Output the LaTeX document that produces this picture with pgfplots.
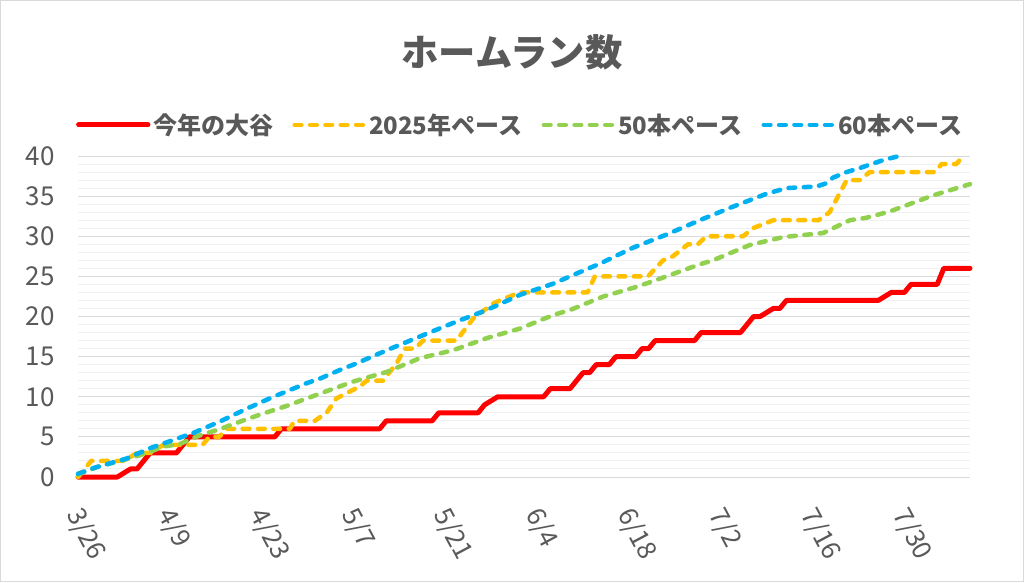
\documentclass[border=0pt]{standalone}
\usepackage{fontspec}
\setmainfont{Noto Sans CJK JP}
\usepackage{pgfplots}
\pgfplotsset{compat=1.18}

\definecolor{textgray}{RGB}{89,89,89}
\definecolor{majorgrid}{RGB}{217,217,217}
\definecolor{minorgrid}{RGB}{240,240,240}
\definecolor{ohtani}{RGB}{255,0,0}
\definecolor{pace2025}{RGB}{255,192,0}
\definecolor{pace50}{RGB}{146,208,80}
\definecolor{pace60}{RGB}{0,176,240}

\begin{document}
\begin{tikzpicture}
\path[use as bounding box] (0,0) rectangle (768pt,436.5pt);
\draw[majorgrid, line width=0.75pt] (0.375pt,0.375pt) rectangle (767.625pt,436.125pt);
\node[font=\fontsize{28}{30}\selectfont\bfseries, text=textgray] at (384pt,397.5pt) {ホームラン数};

\begin{axis}[
at={(58.5pt,78.75pt)}, anchor=south west,
scale only axis,
width=669pt, height=240.75pt,
xmin=0, xmax=136,
ymin=0, ymax=40,
clip=false,
axis line style={draw=none},
major tick length=0pt, minor tick length=0pt,
xtick={0,14,...,126},
xticklabels={3/26,4/9,4/23,5/7,5/21,6/4,6/18,7/2,7/16,7/30},
ytick={0,5,...,40},
minor y tick num=4,
ymajorgrids, yminorgrids,
major grid style={majorgrid, line width=0.75pt},
minor grid style={minorgrid, line width=0.75pt},
ticklabel style={font=\fontsize{19.5}{21}\selectfont, text=textgray},
/pgf/number format/assume math mode=true,
yticklabel style={xshift=-14pt},
xticklabel style={rotate=-62, anchor=west, xshift=17pt, yshift=-15pt},
legend columns=4,
legend style={at={(0.496,1.097)}, anchor=center, draw=none, fill=none,
  font=\fontsize{18}{20}\selectfont\bfseries, text=textgray,
  /tikz/every even column/.append style={column sep=12.5pt}},
legend image code/.code={\draw[#1] (0pt,0pt) -- (52pt,0pt);},
]

\addplot[ohtani, line width=3.75pt, line cap=round, line join=round] coordinates {
(0,0) (6,0) (8,1) (9,1) (11,3) (15,3) (17,5) (30,5) (31,6) (46,6) (47,7)
(54,7) (55,8) (61,8) (62,9) (64,10) (71,10) (72,11) (75,11) (77,13) (78,13)
(79,14) (81,14) (82,15) (85,15) (86,16) (87,16) (88,17) (94,17) (95,18)
(101,18) (103,20) (104,20) (106,21) (107,21) (108,22) (122,22) (124,23)
(126,23) (127,24) (131,24) (132,26) (136,26)
};
\addlegendentry{今年の大谷}

\addplot[pace2025, line width=3.4pt, dash pattern=on 5pt off 6.5pt, line cap=round, line join=round] coordinates {
(0,0) (2,2) (7,2) (9,3) (11,3) (13,4) (19,4) (20,5) (21.5,5) (22.7,6)
(32.3,6) (33,7) (36.1,7) (37.9,8) (39.4,9.8) (43,11.3) (44,12) (46.5,12)
(48.6,14.2) (49.8,16) (51.4,16) (52.6,17) (57.7,17) (60.3,19.8) (63.3,21.6)
(64.3,22) (67.4,23) (77.7,23) (78.8,25) (86.9,25) (89.2,27) (90.7,27.5)
(93,29) (94.5,29) (95.8,30) (101.4,30) (102.9,31) (106,32) (112.9,32)
(114.6,33) (117.2,37) (119.2,37) (120.7,38) (130.6,38) (131.7,39)
(133.9,39) (135,40)
};
\addlegendentry{2025年ペース}

\addplot[pace50, line width=3.4pt, dash pattern=on 5pt off 6.5pt, line cap=round, line join=round] coordinates {
(0,0.3) (3.4,1.4) (6.1,1.9) (10.2,2.9) (13,3.8) (15.5,4.1) (18.6,5.2)
(21.4,5.9) (24.7,6.9) (28.2,7.9) (31.6,8.8) (35.6,10) (36.9,10.4) (42,11.9)
(47.1,13.1) (52.1,14.8) (57.2,15.8) (62.3,17.3) (67.4,18.5) (72.5,20.2)
(75,20.8) (80.1,22.5) (85.2,23.7) (88,24.5) (94.8,26.5) (96.8,27)
(102.4,28.9) (107.5,29.9) (113.6,30.4) (115.1,31) (117.7,32) (120.2,32.3)
(123.8,33.1) (130.4,35.1) (136,36.5)
};
\addlegendentry{50本ペース}

\addplot[pace60, line width=3.4pt, dash pattern=on 5pt off 6.5pt, line cap=round, line join=round] coordinates {
(0,0.4) (2.3,1.1) (7.4,2.3) (11,3.6) (14.5,4.6) (17.6,5.5) (21.6,6.9)
(25.7,8.5) (29.8,10) (34.9,11.7) (37,12.3) (40.4,13.5) (42,14) (47.1,15.8)
(52.1,17.5) (57.2,19.2) (62.3,20.8) (67.4,22.7) (72.5,24.1) (75,25)
(79.6,26.6) (84.7,28.6) (89.7,30.2) (94.8,32) (99.9,33.7) (105,35.3)
(108,36) (112.6,36.2) (114.1,36.6) (115.1,37.3) (117.2,38) (119.2,38.5)
(122.8,39.5) (125.2,40)
};
\addlegendentry{60本ペース}

\end{axis}
\end{tikzpicture}
\end{document}
